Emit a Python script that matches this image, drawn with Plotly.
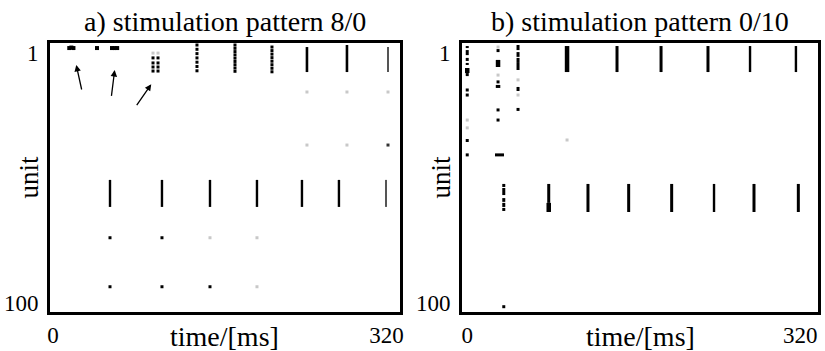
import plotly.graph_objects as go

# ---------------- data (time in ms, unit index) ----------------
x_tickvals = [0, 320]
x_ticktext = ["0", "320"]
y_tickvals = [1, 100]
y_ticktext = ["1", "100"]
titles = ["a) stimulation pattern 8/0", "b) stimulation pattern 0/10"]
x_title = "time/[ms]"
y_title = "unit"

# ---- panel a ----
a_blob_t = [15.5, 17.5, 19.5, 42.1, 56.5, 59.0, 61.5]
a_blob_u = [-1.0, -1.2, -1.0, -1.0, -1.0, -1.0, -1.0]
a_dot_t = ([95.9] * 4 + [100.7] * 4 + [138.1] * 7 + [174.6] * 9 + [210.1] * 8
           + [54.6, 104.5, 54.6, 104.5, 150.6])
a_dot_u = ([2.9, 4.9, 6.5, 8.1] * 2
           + [-2.2, -0.5, 1.2, 2.9, 4.6, 6.3, 8.0]
           + [-2.2, -0.9, 0.4, 1.7, 3.0, 4.3, 5.6, 6.9, 8.2]
           + [-1.4, 0.0, 1.4, 2.8, 4.2, 5.6, 7.0, 8.4]
           + [74.1, 74.1, 93.5, 93.5, 93.5])
a_faint_t = [95.9, 100.7, 150.6, 195.7, 195.7, 243.7, 282.1, 321.5, 243.7, 282.1]
a_faint_u = [1.0, 1.0, 74.1, 74.1, 93.5, 16.4, 16.4, 16.4, 37.4, 37.4]
a_darkdot_t = [321.5]
a_darkdot_u = [37.4]
a_topbar_t = [243.7, 282.1]
a_topbar_u0 = [-1.4, -2.2]
a_topbar_u1 = [8.5, 8.5]
a_greybar_t = [321.5, 319.6]
a_greybar_u0 = [-1.4, 51.2]
a_greybar_u1 = [8.5, 61.9]
a_midbar_t = [54.6, 104.5, 150.6, 195.7, 238.9, 274.4]
a_midbar_u0 = [51.2] * 6
a_midbar_u1 = [61.9] * 6
arrow_head_t = [22.2, 59.1, 94.2]
arrow_head_u = [5.7, 7.7, 13.3]
arrow_tail_t = [27.7, 55.8, 79.3]
arrow_tail_u = [16.0, 18.5, 22.2]

# ---- panel b ----
b_seg_t = ([0] * 5 + [29.6, 48.8, 48.8, 48.8, 48.8, 48.8]
           + [35.1] * 5 + [78.3] + [116.0, 155.1, 196.4, 275.5, 318.1]
           + [143.9, 186.2, 231.3])
b_seg_u0 = ([-1.8, -0.2, 2.9, 4.9, 8.9, -0.6, -2.2, 0.6, 2.9, 4.9, 14.4]
            + [52.8, 54.4, 58.4, 60.3, 62.3] + [52.8] + [52.8] * 5
            + [-1.8] * 3)
b_seg_u1 = ([-1.0, 1.8, 4.1, 5.7, 10.1, 0.6, -0.2, 2.5, 4.9, 7.7, 16.0]
            + [54.0, 57.2, 59.9, 61.9, 63.5] + [60.3] + [63.9] * 5
            + [8.5] * 3)
b_thick_t = [0, 29.6, 29.6, 95.9, 78.3]
b_thick_u0 = [6.9, 3.7, 13.6, -1.8, 60.3]
b_thick_u1 = [8.9, 6.5, 14.8, 8.5, 63.9]
b_thin_t = [271.7, 315.8, 237.1]
b_thin_u0 = [-1.8, -1.8, 52.8]
b_thin_u1 = [8.5, 8.5, 63.9]
b_hbar_t0 = [26.7]
b_hbar_t1 = [35.3]
b_hbar_u = [41.3]
b_dot_t = [0, 0, 0, 0, 29.6, 29.6, 29.6, 48.8, 35.1]
b_dot_u = [15.6, 17.6, 35.6, 41.3, 12.4, 23.5, 27.5, 23.3, 101.4]
b_faint_t = [0, 0, 29.6, 29.6, 48.8, 48.8, 95.9]
b_faint_u = [27.5, 30.6, -1.4, 9.7, 11.6, 17.6, 35.4]

x_ranges = [[-3, 333], [-5, 337]]
y_range = [103.5, -3]


def segs(ts, u0s, u1s):
    xs, ys = [], []
    for t, a, b in zip(ts, u0s, u1s):
        xs += [t, t, None]
        ys += [a, b, None]
    return xs, ys


def hsegs(t0s, t1s, us):
    xs, ys = [], []
    for a, b, u in zip(t0s, t1s, us):
        xs += [a, b, None]
        ys += [u, u, None]
    return xs, ys


fig = go.Figure()


def add_lines(xs, ys, width, color, ax):
    fig.add_trace(go.Scatter(x=xs, y=ys, mode="lines", xaxis=ax[0], yaxis=ax[1],
                             line=dict(color=color, width=width),
                             hoverinfo="skip", showlegend=False))


def add_dots(xs, ys, size, color, ax):
    fig.add_trace(go.Scatter(x=xs, y=ys, mode="markers", xaxis=ax[0], yaxis=ax[1],
                             marker=dict(symbol="square", size=size, color=color,
                                         line=dict(width=0)),
                             hoverinfo="skip", showlegend=False))


A = ("x", "y")
B = ("x2", "y2")

# panel a
add_dots(a_faint_t, a_faint_u, 3, "#c8c8c8", A)
add_dots(a_blob_t, a_blob_u, 4, "black", A)
add_dots(a_dot_t, a_dot_u, 3, "black", A)
add_dots(a_darkdot_t, a_darkdot_u, 3, "#333", A)
add_lines(*segs(a_topbar_t, a_topbar_u0, a_topbar_u1), 2.6, "black", A)
add_lines(*segs(a_greybar_t, a_greybar_u0, a_greybar_u1), 2, "#555", A)
add_lines(*segs(a_midbar_t, a_midbar_u0, a_midbar_u1), 2.4, "black", A)

# panel b
add_dots(b_faint_t, b_faint_u, 3, "#c8c8c8", B)
add_lines(*segs(b_seg_t, b_seg_u0, b_seg_u1), 3, "black", B)
add_lines(*segs(b_thick_t, b_thick_u0, b_thick_u1), 4.5, "black", B)
add_lines(*segs(b_thin_t, b_thin_u0, b_thin_u1), 2.4, "black", B)
add_lines(*hsegs(b_hbar_t0, b_hbar_t1, b_hbar_u), 3, "black", B)
add_dots(b_dot_t, b_dot_u, 3, "black", B)

font_family = "Liberation Serif, Times New Roman, serif"
axis_common = dict(showgrid=False, zeroline=False, showline=True, mirror=True,
                   linewidth=3, linecolor="black", ticks="", automargin=False,
                   tickfont=dict(family=font_family, size=23, color="black"))

annotations = []
for i, (xref, yref) in enumerate([("x", "y"), ("x2", "y2")]):
    annotations.append(dict(text=titles[i], xref=f"{xref} domain", yref=f"{yref} domain",
                            x=0.5, y=1.0, yshift=22, xanchor="center", yanchor="middle",
                            showarrow=False,
                            font=dict(family=font_family, size=28, color="black")))
    annotations.append(dict(text=x_title, xref=f"{xref} domain", yref=f"{yref} domain",
                            x=0.5, y=0.0, yshift=-24, xanchor="center", yanchor="middle",
                            showarrow=False,
                            font=dict(family=font_family, size=28, color="black")))
    annotations.append(dict(text=y_title, xref=f"{xref} domain", yref=f"{yref} domain",
                            x=0.0, y=0.5, xshift=-22, xanchor="center", yanchor="middle",
                            textangle=-90, showarrow=False,
                            font=dict(family=font_family, size=27, color="black")))

for ht, hu, tt, tu in zip(arrow_head_t, arrow_head_u, arrow_tail_t, arrow_tail_u):
    annotations.append(dict(x=ht, y=hu, ax=tt, ay=tu, xref="x", yref="y",
                            axref="x", ayref="y", text="", showarrow=True,
                            arrowhead=2, arrowsize=1, arrowwidth=1.3,
                            arrowcolor="black"))

fig.update_layout(
    width=825, height=351,
    margin=dict(l=50, r=7, t=43, b=39, autoexpand=False),
    plot_bgcolor="white", paper_bgcolor="white",
    showlegend=False,
    xaxis=dict(domain=[0, 0.4557], range=x_ranges[0], tickvals=x_tickvals,
               ticktext=x_ticktext, ticklabelstandoff=0, **axis_common),
    xaxis2=dict(domain=[0.5365, 1.0], range=x_ranges[1], tickvals=x_tickvals,
                ticktext=x_ticktext, ticklabelstandoff=0, anchor="y2", **axis_common),
    yaxis=dict(range=y_range, tickvals=y_tickvals, ticktext=y_ticktext,
               ticklabelstandoff=4, **axis_common),
    yaxis2=dict(range=y_range, tickvals=y_tickvals, ticktext=y_ticktext,
                ticklabelstandoff=4, anchor="x2", **axis_common),
    annotations=annotations,
)

fig.write_html("out.html", config={"displayModeBar": False},
               post_script="document.body.style.margin='0';document.body.style.overflow='hidden';")
